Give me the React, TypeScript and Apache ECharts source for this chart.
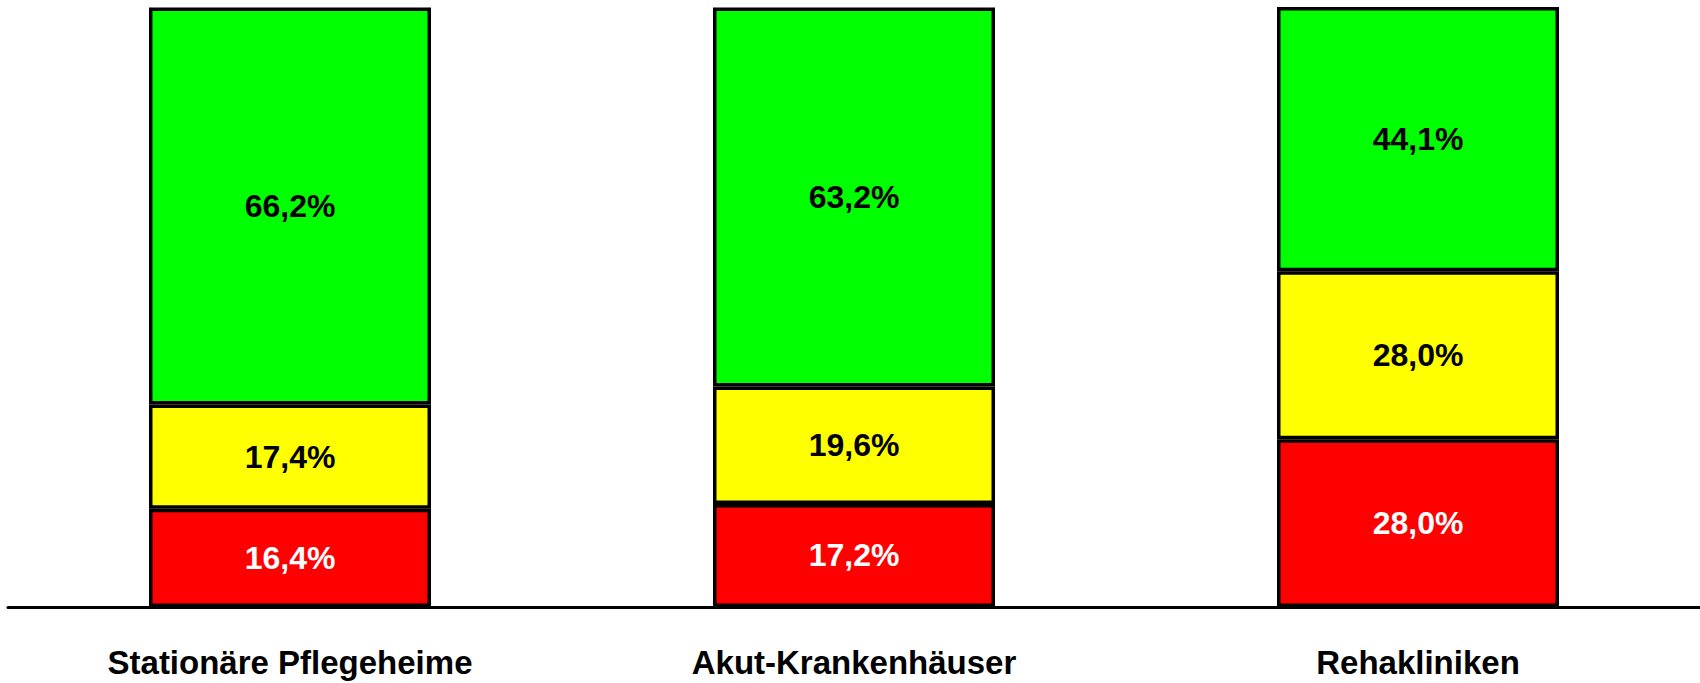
import React, { useEffect, useRef } from "react";
import * as echarts from "echarts";

const categories = ["Stationäre Pflegeheime", "Akut-Krankenhäuser", "Rehakliniken"];
const redValues = [16.4, 17.2, 28.0];
const yellowValues = [17.4, 19.6, 28.0];
const greenValues = [66.2, 63.2, 44.1];

const FONT = "'Liberation Sans', Arial, sans-serif";

const fmt = (p: any) => Number(p.value).toFixed(1).replace(".", ",") + "%";

export default function App() {
  const ref = useRef<HTMLDivElement>(null);
  useEffect(() => {
    if (!ref.current) return;
    const chart = echarts.init(ref.current, null, { renderer: "svg" });
    const mk = (name: string, data: number[], color: string, labelColor: string) => ({
      name,
      type: "bar",
      stack: "total",
      data,
      barWidth: "50%",
      itemStyle: { color, borderColor: "#000", borderWidth: 3.5 },
      label: {
        show: true,
        position: "inside",
        formatter: fmt,
        color: labelColor,
        fontFamily: FONT,
        fontWeight: "bold",
        fontSize: 32,
      },
    });
    chart.setOption({
      animation: false,
      grid: { left: 8, right: 0, top: 7, bottom: 76, containLabel: false },
      xAxis: {
        type: "category",
        data: categories,
        axisLine: { show: true, lineStyle: { color: "#000", width: 3 } },
        axisTick: { show: false },
        axisLabel: {
          color: "#000",
          fontFamily: FONT,
          fontWeight: "bold",
          fontSize: 33,
          margin: 39,
          interval: 0,
        },
      },
      yAxis: {
        type: "value",
        min: 0,
        max: 100.1,
        show: false,
        splitLine: { show: false },
      },
      series: [
        mk("rot", redValues, "#FF0000", "#FFFFFF"),
        mk("gelb", yellowValues, "#FFFF00", "#000000"),
        mk("grün", greenValues, "#00FF00", "#000000"),
      ],
    });
    return () => chart.dispose();
  }, []);
  return (
    <div
      ref={ref}
      style={{ position: "absolute", left: 0, top: 0, width: 1700, height: 683, background: "#fff" }}
    />
  );
}
